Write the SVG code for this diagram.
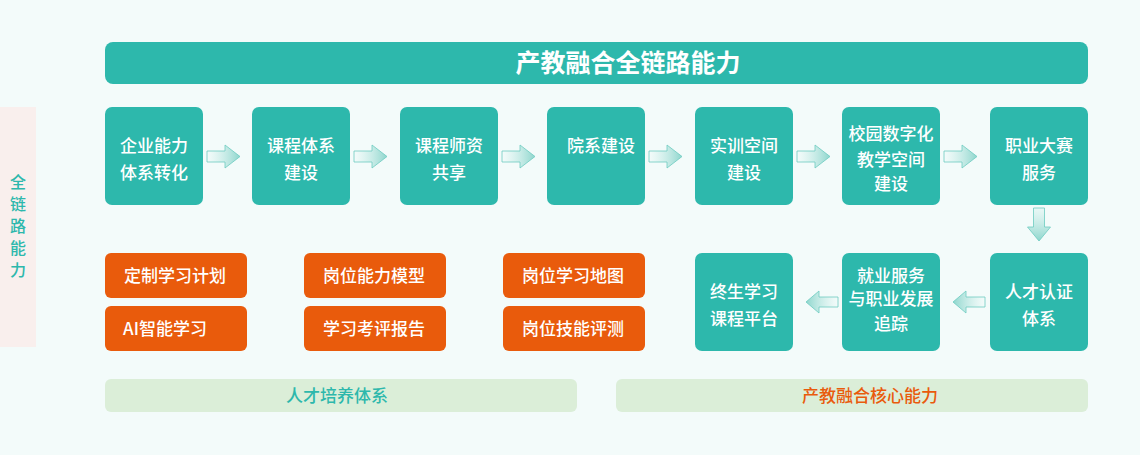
<svg xmlns="http://www.w3.org/2000/svg" width="1140" height="455" viewBox="0 0 1140 455">
<defs>
<linearGradient id="gr" x1="0" y1="0" x2="1" y2="0"><stop offset="0" stop-color="#bfe9e3" stop-opacity="0"/><stop offset="1" stop-color="#8ed6cd"/></linearGradient>
<linearGradient id="gl" x1="1" y1="0" x2="0" y2="0"><stop offset="0" stop-color="#bfe9e3" stop-opacity="0"/><stop offset="1" stop-color="#8ed6cd"/></linearGradient>
<linearGradient id="gd" x1="0" y1="0" x2="0" y2="1"><stop offset="0" stop-color="#bfe9e3" stop-opacity="0.2"/><stop offset="1" stop-color="#8ed6cd"/></linearGradient>
<style>
.t{fill:#2db8ac}
.o{fill:#e95b0c}
.w{fill:#fff;font-family:"Noto Sans CJK SC","Noto Sans",sans-serif;font-size:17px;font-weight:500;text-anchor:middle}
.ar{stroke:#6ccbc0;stroke-width:0.8}
</style>
</defs>
<rect width="1140" height="455" fill="#f3fbfa"/>
<g id="side">
<rect x="0" y="107" width="36" height="240" fill="#f9efed"/>
<text font-family="'Noto Sans CJK SC',sans-serif" font-size="16" font-weight="500" fill="#2db8ac" text-anchor="middle"><tspan x="18" y="188">全</tspan><tspan x="18" y="210">链</tspan><tspan x="18" y="232">路</tspan><tspan x="18" y="254">能</tspan><tspan x="18" y="276">力</tspan></text>
</g>
<g id="title">
<rect x="105" y="42" width="983" height="42" rx="8" class="t"/>
<text x="628" y="72" class="w" style="font-size:25px;font-weight:bold">产教融合全链路能力</text>
</g>
<g id="n1"><rect x="105" y="107" width="98" height="98" rx="7" class="t"/><text class="w"><tspan x="154" y="152">企业能力</tspan><tspan x="154" y="179">体系转化</tspan></text></g>
<g id="n2"><rect x="252" y="107" width="98" height="98" rx="7" class="t"/><text class="w"><tspan x="301" y="152">课程体系</tspan><tspan x="301" y="179">建设</tspan></text></g>
<g id="n3"><rect x="400" y="107" width="98" height="98" rx="7" class="t"/><text class="w"><tspan x="449" y="152">课程师资</tspan><tspan x="449" y="179">共享</tspan></text></g>
<g id="n4"><rect x="547" y="107" width="98" height="98" rx="7" class="t"/><text class="w"><tspan x="601" y="152">院系建设</tspan></text></g>
<g id="n5"><rect x="695" y="107" width="98" height="98" rx="7" class="t"/><text class="w"><tspan x="744" y="152">实训空间</tspan><tspan x="744" y="179">建设</tspan></text></g>
<g id="n6"><rect x="842" y="107" width="98" height="98" rx="7" class="t"/><text class="w"><tspan x="891" y="140">校园数字化</tspan><tspan x="891" y="166">教学空间</tspan><tspan x="891" y="190">建设</tspan></text></g>
<g id="n7"><rect x="990" y="107" width="98" height="98" rx="7" class="t"/><text class="w"><tspan x="1039" y="152">职业大赛</tspan><tspan x="1039" y="179">服务</tspan></text></g>
<g id="n8"><rect x="990" y="253" width="98" height="98" rx="7" class="t"/><text class="w"><tspan x="1039" y="298">人才认证</tspan><tspan x="1039" y="325">体系</tspan></text></g>
<g id="n9"><rect x="842" y="253" width="98" height="98" rx="7" class="t"/><text class="w"><tspan x="891" y="282">就业服务</tspan><tspan x="891" y="305">与职业发展</tspan><tspan x="891" y="330">追踪</tspan></text></g>
<g id="n10"><rect x="695" y="253" width="98" height="98" rx="7" class="t"/><text class="w"><tspan x="744" y="298">终生学习</tspan><tspan x="744" y="325">课程平台</tspan></text></g>
<g id="o1"><rect x="105" y="253" width="142" height="45" rx="6" class="o"/><text x="175" y="282" class="w">定制学习计划</text></g>
<g id="o2"><rect x="105" y="306" width="142" height="45" rx="6" class="o"/><text x="165" y="335" class="w">AI智能学习</text></g>
<g id="o3"><rect x="304" y="253" width="142" height="45" rx="6" class="o"/><text x="374" y="282" class="w">岗位能力模型</text></g>
<g id="o4"><rect x="304" y="306" width="142" height="45" rx="6" class="o"/><text x="374" y="335" class="w">学习考评报告</text></g>
<g id="o5"><rect x="503" y="253" width="142" height="45" rx="6" class="o"/><text x="573" y="282" class="w">岗位学习地图</text></g>
<g id="o6"><rect x="503" y="306" width="142" height="45" rx="6" class="o"/><text x="573" y="335" class="w">岗位技能评测</text></g>
<g id="b1"><rect x="105" y="379" width="472" height="33" rx="6" fill="#dbeed8"/><text x="337" y="402" class="w" style="fill:#2db8ac">人才培养体系</text></g>
<g id="b2"><rect x="616" y="379" width="472" height="33" rx="6" fill="#dbeed8"/><text x="870" y="402" class="w" style="fill:#e95b0c">产教融合核心能力</text></g>
<g id="connectors">
<path class="ar" fill="url(#gr)" d="M207 151H225V145L240 156.5L225 168V162H207Z"/>
<path class="ar" fill="url(#gr)" d="M354 151H372V145L387 156.5L372 168V162H354Z"/>
<path class="ar" fill="url(#gr)" d="M502 151H520V145L535 156.5L520 168V162H502Z"/>
<path class="ar" fill="url(#gr)" d="M649 151H667V145L682 156.5L667 168V162H649Z"/>
<path class="ar" fill="url(#gr)" d="M797 151H815V145L830 156.5L815 168V162H797Z"/>
<path class="ar" fill="url(#gr)" d="M944 151H962V145L977 156.5L962 168V162H944Z"/>
<path class="ar" fill="url(#gd)" d="M1033.5 208V227H1027.5L1039 241L1050.5 227H1044.5V208Z"/>
<path class="ar" fill="url(#gl)" d="M985 297H966V291L953 302L966 313V307H985Z"/>
<path class="ar" fill="url(#gl)" d="M838 297H819V291L806 302L819 313V307H838Z"/>
</g>
</svg>
